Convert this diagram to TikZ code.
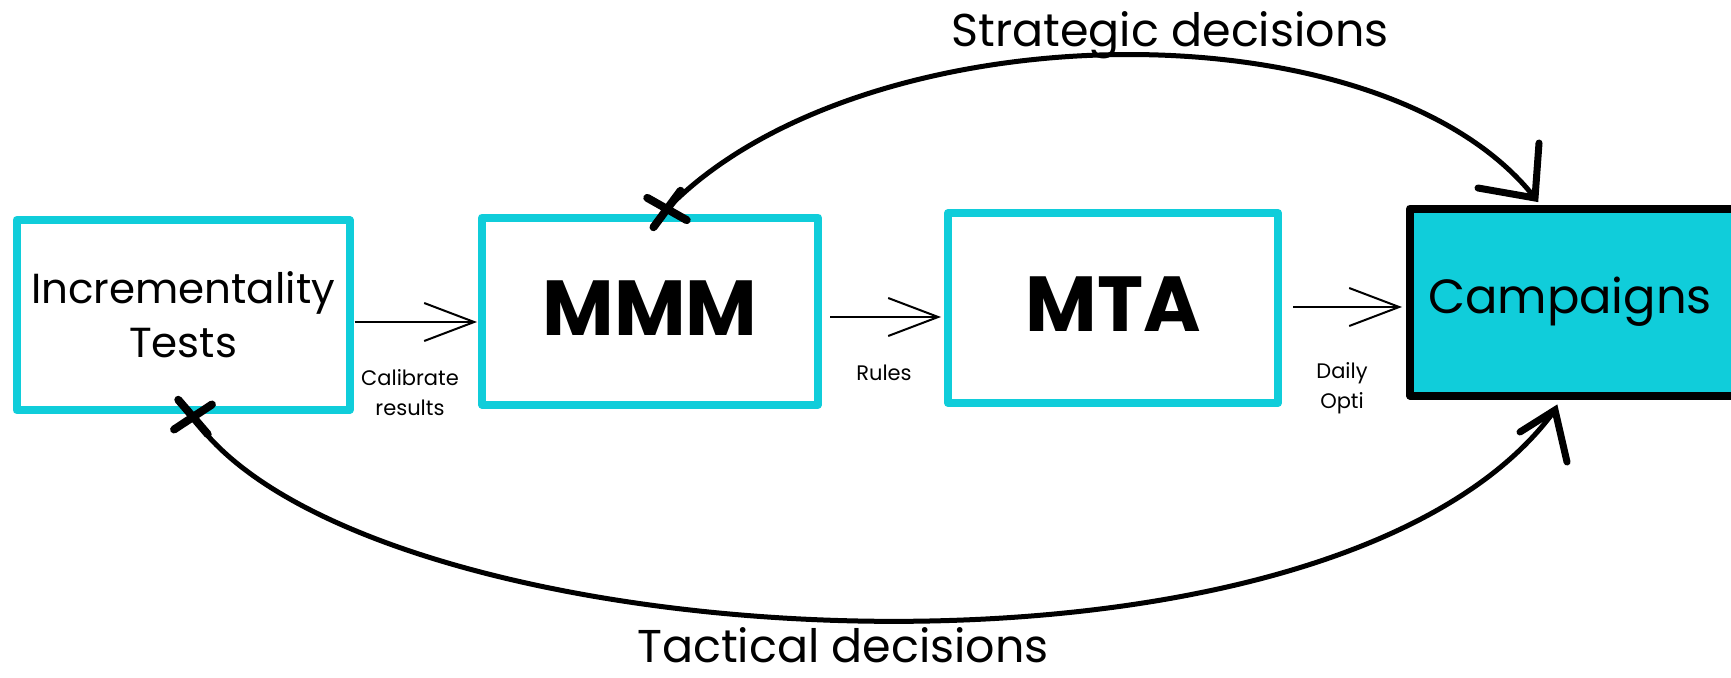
\documentclass[tikz,border=0pt]{standalone}
\usepackage{fontspec}
\setmainfont{Poppins}
\usetikzlibrary{arrows.meta,shapes.misc,calc}
\definecolor{cy}{RGB}{16,205,218}
\begin{document}
\begin{tikzpicture}[x=1pt,y=-1pt,
  box/.style={draw=cy, line width=8pt, outer sep=0pt, inner sep=0pt, line join=round, align=center},
  lbl/.style={inner sep=0pt, align=center},
  small/.style={lbl, font=\fontsize{21}{30}\selectfont},
  big/.style={lbl, font=\fontsize{46}{52}\selectfont},
  tarrow/.style={line width=2pt, -{Straight Barb[length=50pt,width=38pt]}},
  curve/.style={line width=5pt, line cap=round},
  barb/.style={line width=7pt, line cap=round},
  xmark/.style={cross out, draw, line width=8pt, minimum width=26pt, minimum height=22pt, inner sep=0pt, line cap=round}]
\useasboundingbox (0,0) rectangle (1731,677);
\clip (0,0) rectangle (1731,677);
% boxes
\node[box, minimum width=333pt, minimum height=190pt, font=\fontsize{42}{54}\selectfont] (inc) at (183,315) {Incrementality\\Tests};
\node[box, minimum width=336pt, minimum height=187pt, font=\fontsize{78}{80}\selectfont\bfseries] (mmm) at (650,311) {\raisebox{6pt}{MMM}};
\node[box, minimum width=330pt, minimum height=190pt, font=\fontsize{78}{80}\selectfont\bfseries] (mta) at (1113,308) {\raisebox{8pt}{MTA}};
\node[box, draw=black, fill=cy, minimum width=330pt, minimum height=187pt, font=\fontsize{48}{56}\selectfont] (camp) at (1575,302) {\hspace*{-10pt}Campaigns};
% labels
\node[small] (cal) at (410,393) {Calibrate\\results};
\node[small] (rules) at (884,373) {Rules};
\node[small] (daily) at (1342,388) {Daily\\Opti};
\node[big] (strat) at (1170,35) {Strategic decisions};
\node[big] (tact) at (843,645) {Tactical decisions};
% straight arrows
\draw[tarrow, shorten <=5pt, shorten >=5pt] (inc.east |- 0,322) -- (mmm.west |- 0,322);
\draw[tarrow, shorten <=12pt, shorten >=7pt] (mmm.east |- 0,317) -- (mta.west |- 0,317);
\draw[tarrow, shorten <=15pt, shorten >=8pt] (mta.east |- 0,307) -- (camp.west |- 0,307);
% curved arrows
\node[xmark, rotate=12] (xs) at (667,209) {};
\node[xmark, rotate=-8] (xt) at (193,417) {};
\coordinate (stip) at (1535,198);
\coordinate (sb1) at (1539,143);
\coordinate (sb2) at (1478,188);
\coordinate (ttip) at (1555,410);
\coordinate (tb1) at (1520,432);
\coordinate (tb2) at (1567,462);
\draw[curve] (xs.center) .. controls (860,10) and (1380,0) .. (stip);
\draw[barb] (sb1) -- (stip) -- (sb2);
\draw[curve] (xt.center) .. controls (360,660) and (1330,720) .. (ttip);
\draw[barb] (tb1) -- (ttip) -- (tb2);
\end{tikzpicture}
\end{document}
